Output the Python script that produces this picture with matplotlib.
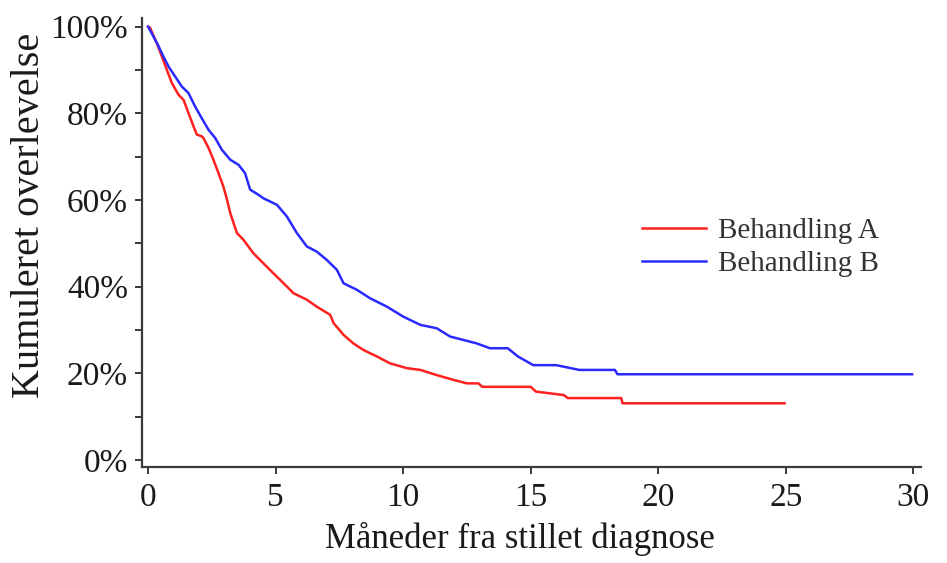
import matplotlib
matplotlib.use("Agg")
import matplotlib.pyplot as plt
from matplotlib.ticker import MultipleLocator, FuncFormatter

# ---- data (months, cumulative survival %) ----
time_a = [0, 0.08, 0.34, 0.54, 0.73, 0.93, 1.19, 1.39, 1.58, 1.78, 1.91, 2.1, 2.17,
          2.37, 2.56, 2.76, 2.95, 3.08, 3.22, 3.48, 3.74, 4.13, 4.52, 4.91, 5.31,
          5.7, 6.22, 6.61, 7.14, 7.27, 7.66, 8.05, 8.44, 8.97, 9.49, 10.15, 10.67,
          11.32, 11.97, 12.5, 12.95, 13.1, 15.0, 15.2, 16.3, 16.45, 18.55, 18.6, 24.95]
surv_a = [100, 99.7, 96.2, 93.1, 90.1, 87, 84.3, 83.1, 80.1, 77, 75.1, 74.7, 74.3,
          72, 69.3, 66.2, 63.1, 60.4, 57, 52.4, 50.8, 47.7, 45.4, 43.1, 40.8,
          38.5, 37, 35.4, 33.5, 31.6, 28.9, 26.9, 25.4, 23.9, 22.3, 21.2, 20.8,
          19.6, 18.5, 17.7, 17.7, 16.9, 16.9, 15.8, 15.0, 14.3, 14.3, 13.1, 13.1]

time_b = [0, 0.4, 0.6, 0.8, 1.06, 1.32, 1.58, 1.84, 2.1, 2.37, 2.63, 2.89, 3.22,
          3.55, 3.8, 4.0, 4.33, 4.52, 5.05, 5.44, 5.83, 6.22, 6.61, 7.0, 7.4, 7.66,
          8.18, 8.71, 9.36, 10.0, 10.67, 11.32, 11.84, 12.37, 12.89, 13.4, 14.1,
          14.5, 15.1, 16.0, 16.9, 18.3, 18.4, 29.95]
surv_b = [100, 95.6, 93.1, 90.8, 88.5, 86.2, 84.7, 81.6, 78.9, 76.2, 74.3, 71.6, 69.3,
          68.1, 66.2, 62.4, 61.2, 60.4, 58.9, 56.2, 52.4, 49.3, 48.1, 46.2, 43.9, 40.8,
          39.3, 37.3, 35.4, 33.1, 31.2, 30.4, 28.5, 27.7, 26.9, 25.8, 25.8,
          23.9, 21.9, 21.9, 20.8, 20.8, 19.8, 19.8]

labels = ["Behandling A", "Behandling B"]
x_ticks = [0, 5, 10, 15, 20, 25, 30]
y_ticks = [0, 20, 40, 60, 80, 100]

plt.rcParams['font.family'] = ['Liberation Serif', 'DejaVu Serif']

fig = plt.figure(figsize=(9.47, 5.63), dpi=100)
ax = fig.add_axes([142/947, 1 - 467/563, (921 - 142)/947, (467 - 18)/563])

ax.plot(time_a, surv_a, color='#ff2020', lw=1.8, label=labels[0])
ax.plot(time_b, surv_b, color='#2a2aff', lw=1.8, label=labels[1])

ax.set_xlim(-0.24, 30.3)
ax.set_ylim(-1.6, 102)

for s in ['top', 'right']:
    ax.spines[s].set_visible(False)
for s in ['left', 'bottom']:
    ax.spines[s].set_color('#3a3a3a')
    ax.spines[s].set_linewidth(1.6)

ax.set_xticks(x_ticks)
ax.set_yticks(y_ticks)
ax.yaxis.set_minor_locator(MultipleLocator(10))
ax.yaxis.set_major_formatter(FuncFormatter(lambda v, p: f"{int(v)}%"))
ax.tick_params(axis='both', which='both', direction='out', color='#3a3a3a',
               width=1.4, length=5)
ax.tick_params(axis='x', labelsize=24, pad=6, labelcolor='#1a1a1a')
ax.tick_params(axis='y', labelsize=24, pad=5, labelcolor='#1a1a1a')

ax.set_xlabel("Måneder fra stillet diagnose", fontsize=25, color='#1a1a1a')
ax.set_ylabel("Kumuleret overlevelse", fontsize=29, color='#1a1a1a')
ax.xaxis.set_label_coords(0.485, -0.122)
ax.yaxis.set_label_coords(-0.121, 0.56)

leg = ax.legend(loc='upper left', bbox_to_anchor=(642/947, 1 - 218/563),
                bbox_transform=fig.transFigure, frameon=False, fontsize=21,
                handlelength=2.2, handletextpad=0.42, labelspacing=0.22,
                borderpad=0, borderaxespad=0)
for t in leg.get_texts():
    t.set_color('#333333')

fig.savefig("out.png", dpi=100, facecolor='white')
